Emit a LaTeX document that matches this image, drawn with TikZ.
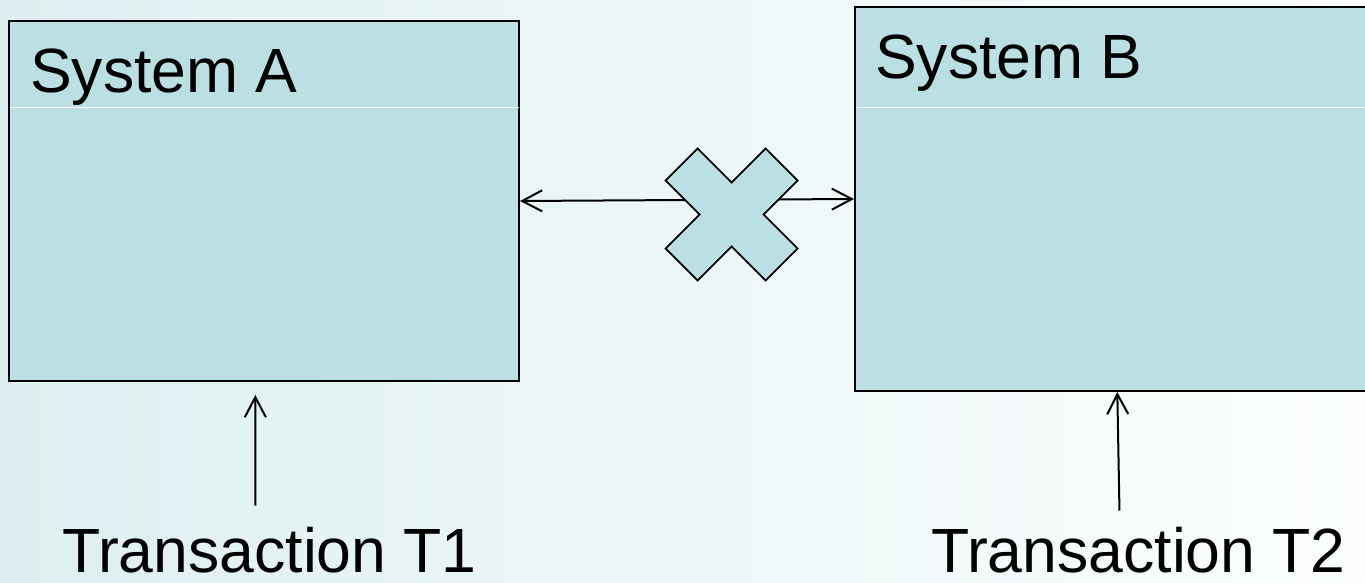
\documentclass[tikz,border=0pt]{standalone}
\usepackage{fontspec}
\setmainfont{Liberation Sans}
\usetikzlibrary{arrows.meta, positioning, calc}

\definecolor{boxteal}{RGB}{187,224,227}
\definecolor{bgleft}{RGB}{222,239,241}
\definecolor{bgmid}{RGB}{243,249,250}
\definecolor{bgright}{RGB}{252,254,254}

\tikzset{
  system/.style={draw=black, line width=2pt, fill=boxteal, anchor=north west, inner sep=0pt},
  bigtext/.style={font=\fontsize{62.5}{75}\selectfont, inner sep=0pt, anchor=base west},
  link/.style={line width=2pt, >={Straight Barb[length=20pt,width=21pt]}},
  crossmark/.style={draw=black, line width=1.8pt, fill=boxteal, line join=miter}
}

\begin{document}
\begin{tikzpicture}[x=1pt, y=1pt]
    \clip (0,0) rectangle (1365,582);
    \shade[left color=bgleft, middle color=bgmid, right color=bgright] (0,0) rectangle (1365,582);

    \node[system, minimum width=510pt, minimum height=360pt] (sysA) at (8,562) {};
    \node[system, minimum width=530pt, minimum height=384pt] (sysB) at (854,576) {};

    \draw[white, line width=1pt, shorten <=1.5pt, shorten >=1.5pt] ([yshift=-88pt]sysA.north west) -- ([yshift=-88pt]sysA.north east);
    \draw[white, line width=1pt, shorten <=1.5pt] ([yshift=-102pt]sysB.north west) -- ([yshift=-102pt]sysB.north east);

    \node[bigtext] (titleA) at ([shift={(22pt,-73pt)}]sysA.north west) {System A};
    \node[bigtext] (titleB) at ([shift={(21pt,-73pt)}]sysB.north west) {System B};

    \node[bigtext] (t1) at (62,10) {Transaction T1};
    \node[bigtext] (t2) at (931,10) {Transaction T2};

    \draw[link, <->] (sysA.east) -- (sysB.west);

    \coordinate (block) at (731.7,367.5);
    \draw[crossmark, shift={(block)}] (-34,66) -- (0,32) -- (34,66) -- (66,34) -- (32,0) -- (66,-34)
        -- (34,-66) -- (0,-32) -- (-34,-66) -- (-66,-34) -- (-32,0) -- (-66,34) -- cycle;

    \draw[link, ->, shorten >=13pt] ([xshift=-14pt, yshift=21pt]t1.north) -- ([xshift=-8.7pt]sysA.south);
    \draw[link, ->] ([xshift=-19pt, yshift=16pt]t2.north) -- ([xshift=-2.7pt]sysB.south);
\end{tikzpicture}
\end{document}
